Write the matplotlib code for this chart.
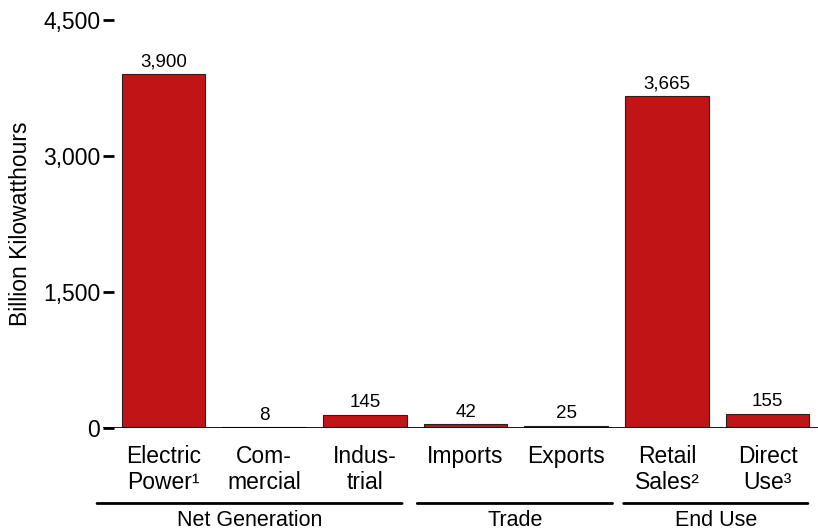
import matplotlib
matplotlib.use("Agg")
import matplotlib.pyplot as plt

plt.rcParams["font.family"] = ["Liberation Sans", "DejaVu Sans"]

CATEGORIES = ["Electric\nPower\u00b9", "Com-\nmercial", "Indus-\ntrial",
              "Imports", "Exports", "Retail\nSales\u00b2", "Direct\nUse\u00b3"]
VALUES = [3900, 8, 145, 42, 25, 3665, 155]
VALUE_LABELS = ["3,900", "8", "145", "42", "25", "3,665", "155"]
GROUPS = ["Net Generation", "Trade", "End Use"]
Y_TICKS = [0, 1500, 3000, 4500]
Y_TICK_LABELS = ["0", "1,500", "3,000", "4,500"]

BAR_COLOR = "#c11416"
# bracket extents (data units) under each group
BRACKETS = [(-0.66, 2.37), (2.52, 4.46), (4.57, 6.40)]

fig = plt.figure(figsize=(8.18, 5.32), dpi=100)
ax = fig.add_axes([0.126, 0.1955, 0.874, 0.767])

x = list(range(len(CATEGORIES)))
ax.bar(x, VALUES, width=0.83, color=BAR_COLOR, edgecolor="#222222", linewidth=0.8, zorder=2)

for xi, v, lab in zip(x, VALUES, VALUE_LABELS):
    ax.text(xi, v + 40, lab, ha="center", va="bottom", fontsize=13.5)

ax.set_xlim(-0.6, 6.5)
ax.set_ylim(0, 4500)
ax.axhline(0, color="black", lw=2, zorder=3)

for s in ax.spines.values():
    s.set_visible(False)

ax.set_yticks(Y_TICKS)
ax.set_yticklabels(Y_TICK_LABELS, fontsize=16.5)
ax.tick_params(axis="y", direction="in", length=8, width=2, pad=2)
ax.set_xticks(x)
ax.set_xticklabels(CATEGORIES, fontsize=16.5, linespacing=1.2)
ax.tick_params(axis="x", length=0, pad=12)
ax.set_ylabel("Billion Kilowatthours", fontsize=16.5, labelpad=8)

# group brackets below the category labels
for name, (x0, x1) in zip(GROUPS, BRACKETS):
    ax.annotate("", xy=(x0, -0.185), xytext=(x1, -0.185),
                xycoords=("data", "axes fraction"), textcoords=("data", "axes fraction"),
                arrowprops=dict(arrowstyle="-", color="black", lw=2, shrinkA=0, shrinkB=0))
    ax.annotate(name, xy=((x0 + x1) / 2, 0), xycoords=("data", "figure pixels"),
                xytext=(0, 1), textcoords="offset pixels",
                ha="center", va="bottom", fontsize=15.5)

fig.savefig("out.png", dpi=100)
